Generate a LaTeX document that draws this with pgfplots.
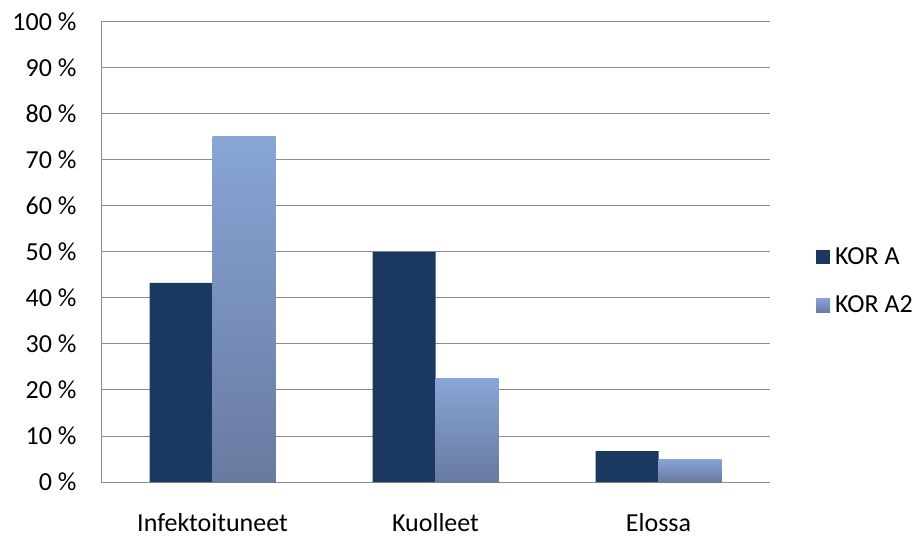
\documentclass[border=0pt]{standalone}
\usepackage{pgfplots}
\pgfplotsset{compat=1.18}
\usepackage{fontspec}
\setmainfont{Carlito}
\definecolor{kora}{HTML}{1A3860}
\definecolor{kora2top}{HTML}{88A5D6}
\definecolor{kora2bot}{HTML}{687A9F}
\definecolor{gridc}{HTML}{8C8C8C}
\begin{document}
\begin{tikzpicture}
\useasboundingbox (0,0) rectangle (920pt,538pt);
\begin{axis}[
  at={(101pt,56pt)}, anchor=south west,
  scale only axis, width=669pt, height=460pt,
  font=\fontsize{26}{31}\selectfont,
  /pgf/number format/assume math mode=true,
  ybar, bar width=63pt,
  xmin=-0.5, xmax=2.5, ymin=0, ymax=100,
  xtick={0,1,2}, xticklabels={Infektoituneet,Kuolleet,Elossa},
  ytick={0,10,...,100},
  yticklabel={\pgfmathprintnumber{\tick} \%},
  ymajorgrids, grid style={gridc, line width=1pt},
  axis x line*=bottom, axis y line*=left,
  axis line style={gridc, line width=1pt},
  major tick length=0pt,
  x axis line style={-}, y axis line style={-},
  yticklabel style={xshift=-21pt},
  xticklabel style={yshift=-28pt},
  legend style={at={(1.064,0.437)}, anchor=west, draw=none, fill=none,
    font=\fontsize{26}{31}\selectfont, row sep=26pt,
    legend cell align=left},
  legend image code/.code={\fill[#1] (0pt,-7pt) rectangle (14pt,7pt);},
]
\addplot[fill=kora, draw=none, bar shift=-31.5pt] coordinates {(0,43.3) (1,50) (2,6.7)};
\addlegendentry{\hspace{3pt}KOR A}
\addplot[top color=kora2top, bottom color=kora2bot, draw=none, bar shift=31.5pt] coordinates {(0,75)};
\addlegendentry{\hspace{3pt}KOR A2}
\addplot[top color=kora2top, bottom color=kora2bot, draw=none, bar shift=31.5pt, forget plot] coordinates {(1,22.4)};
\addplot[top color=kora2top, bottom color=kora2bot, draw=none, bar shift=31.5pt, forget plot] coordinates {(2,5)};
\end{axis}
\end{tikzpicture}
\end{document}
